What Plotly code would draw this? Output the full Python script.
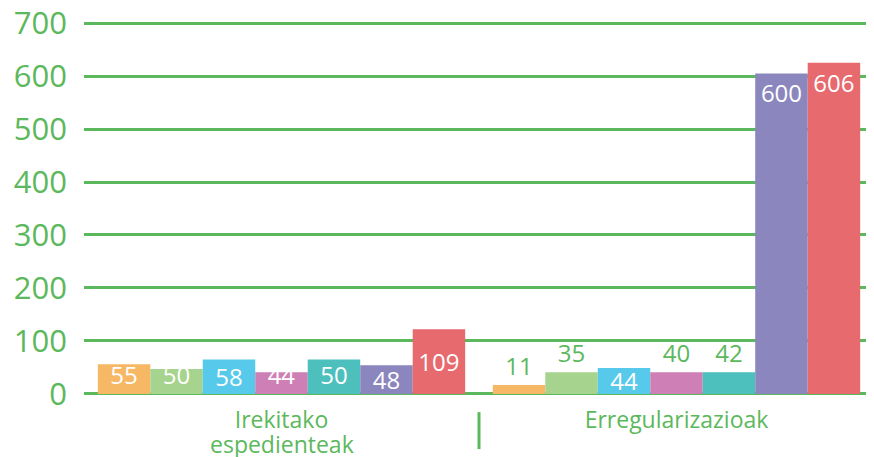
import plotly.graph_objects as go

categories = ["Irekitako espedienteak", "Erregularizazioak"]
category_first_lines = ["Irekitako", "Erregularizazioak"]
category_second_lines = ["espedienteak", ""]

# bar heights as drawn in the picture, per colour series (one value per category)
orange_heights = [56, 17]
green_heights = [47, 41]
blue_heights = [65, 49]
pink_heights = [41, 41]
teal_heights = [65, 41]
purple_heights = [54, 605]
red_heights = [122, 625]

# value labels printed on the bars
orange_labels = ["55", "11"]
green_labels = ["50", "35"]
blue_labels = ["58", "44"]
pink_labels = ["44", "40"]
teal_labels = ["50", "42"]
purple_labels = ["48", "600"]
red_labels = ["109", "606"]

y_tick_values = [0, 100, 200, 300, 400, 500, 600, 700]

# styles
GREEN = "#5cb85c"
FONT = "Open Sans"
series = [
    (orange_heights, orange_labels, "#f7b866"),
    (green_heights, green_labels, "#a6d38d"),
    (blue_heights, blue_labels, "#57c9ea"),
    (pink_heights, pink_labels, "#ce7fb5"),
    (teal_heights, teal_labels, "#4dbfbd"),
    (purple_heights, purple_labels, "#8b86bd"),
    (red_heights, red_labels, "#e76a6e"),
]
# label placement per series and category: inside anchor or 'outside'
placement = [
    ["start", "outside"],
    ["start", "outside"],
    ["middle", "middle"],
    ["start", "outside"],
    ["start", "outside"],
    ["middle", "end"],
    ["middle", "end"],
]

fig = go.Figure()
for i, (heights, labels, color) in enumerate(series):
    for j, cat in enumerate(categories):
        pos = placement[i][j]
        fig.add_trace(go.Bar(
            x=[cat], y=[heights[j]], text=[labels[j]],
            offsetgroup=str(i),
            marker=dict(color=color, line=dict(width=0)),
            textposition="outside" if pos == "outside" else "inside",
            insidetextanchor="middle" if pos == "outside" else pos,
            insidetextfont=dict(family=FONT, size=24, color="white"),
            outsidetextfont=dict(family=FONT, size=24, color=GREEN),
            textangle=0,
            cliponaxis=False,
            constraintext="none",
            showlegend=False,
            hoverinfo="skip",
        ))

# second line of the category labels, set tight under the first line
for cat, line2 in zip(categories, category_second_lines):
    if line2:
        fig.add_annotation(x=cat, xref="x", y=-0.131, yref="paper",
                           yanchor="middle", text=line2, showarrow=False,
                           font=dict(family=FONT, size=23, color=GREEN))

fig.add_shape(type="line", xref="x", yref="paper", x0=0.5, x1=0.5,
              y0=-0.046, y1=-0.145, line=dict(color=GREEN, width=3))

fig.update_layout(
    width=866, height=449,
    margin=dict(l=76, r=0, t=14, b=62),
    paper_bgcolor="white", plot_bgcolor="white",
    barmode="group", bargap=0.07, bargroupgap=0,
    font=dict(family=FONT, color=GREEN),
    uniformtext=dict(mode=False),
)
fig.update_yaxes(
    range=[-2, 702], tickvals=y_tick_values,
    showgrid=True, gridcolor=GREEN, gridwidth=3,
    zeroline=False, showline=False, ticks="",
    tickfont=dict(family=FONT, size=31, color=GREEN),
    ticklabelstandoff=16, automargin=False, ticklabeloverflow="allow",
)
fig.update_xaxes(
    showgrid=False, zeroline=False, showline=False, ticks="",
    tickvals=categories, ticktext=category_first_lines,
    tickfont=dict(family=FONT, size=23, color=GREEN),
    ticklabelstandoff=9, automargin=False, ticklabeloverflow="allow",
)

fig.write_html("out.html")
